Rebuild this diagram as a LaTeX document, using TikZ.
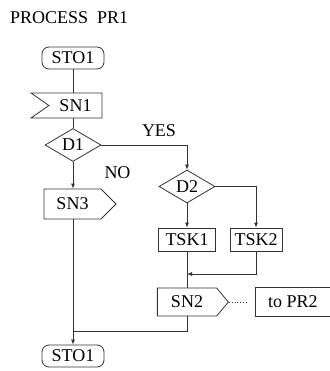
\documentclass[tikz,border=0pt]{standalone}
\usepackage{fontspec}
\setmainfont{Liberation Serif}
\usetikzlibrary{shapes.geometric, shapes.symbols, arrows.meta}

\tikzset{
  flow/.style={line width=0.8pt, draw=black!80},
  arr/.style={flow, -{Latex[length=5pt,width=4pt]}},
  termbox/.style={flow, rectangle, rounded corners=7pt, minimum width=62pt, minimum height=22pt, inner sep=0pt},
  taskbox/.style={flow, rectangle, minimum height=23pt, inner sep=0pt},
  decide/.style={flow, diamond, aspect=1.7, inner sep=0pt, minimum width=56pt, minimum height=33pt},
  sigout/.style={flow, signal, signal to=east, signal pointer angle=90, minimum width=72pt, minimum height=30pt, inner sep=0pt},
  sigin/.style={flow, signal, signal to=nowhere, signal from=west, signal pointer angle=70, minimum width=71pt, minimum height=25pt, inner sep=0pt},
}

\begin{document}
\begin{tikzpicture}[x=1pt, y=-1pt, font=\fontsize{18}{20}\selectfont]
        \useasboundingbox (0,0) rectangle (329,371);

        % Title
        \node[anchor=west, inner sep=0pt] (title) at (10,18) {PROCESS\ \ PR1};

        % Main column
        \node[termbox] (start) at (73,58) {STO1};
        \node[sigin] (sn1) at (75.5,105.5) {SN1};
        \node[decide] (d1) at (73,145) {D1};
        \node[sigout] (sn3) at (72.5,204) {SN3};
        \node[termbox] (stop) at (73,356) {STO1};

        % Right column
        \node[decide] (d2) at (187,186.5) {D2};
        \node[taskbox, minimum width=57pt] (tsk1) at (187,239.5) {TSK1};
        \node[taskbox, minimum width=52pt] (tsk2) at (256,239.5) {TSK2};
        \node[sigout, signal pointer angle=100, minimum width=71pt, minimum height=28pt] (sn2) at (187,302) {SN2};

        % Comment
        \node[anchor=west, minimum height=28pt, inner xsep=13pt] (note) at (255,302) {to PR2};
        \draw[flow] ([xshift=90pt]note.north west) -- (note.north west) -- (note.south west) -- ([xshift=90pt]note.south west);

        % Labels
        \node (yes) at (159,131) {YES};
        \node (no) at (117.5,173) {NO};

        % Joints
        \coordinate (merge) at (187,274);
        \coordinate (back) at (73,331);

        % Connectors
        \draw[flow] (start.south) -- (start.south |- sn1.north);
        \draw[flow] (d1.north |- sn1.south) -- (d1.north);
        \draw[arr] (d1.south) -- (d1.south |- sn3.north);
        \draw[arr] (d1.south |- sn3.south) -- (stop.north);
        \draw[arr] (d1.east) -| (d2.north);
        \draw[arr] (d2.south) -- (tsk1.north);
        \draw[arr] (d2.east) -| (tsk2.north);
        \draw[flow] (tsk1.south) -- (tsk1.south |- sn2.north);
        \draw[arr] (tsk2.south) |- (merge);
        \draw[flow] (tsk1.south |- sn2.south) |- (back);
        \draw[flow, dotted, shorten >=7pt] (sn2.east) -- (sn2.east -| note.west);
      \end{tikzpicture}
\end{document}
